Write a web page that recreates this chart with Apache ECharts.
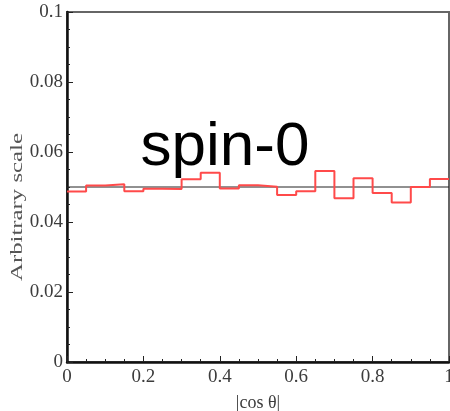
<!DOCTYPE html>
<html>
<head>
<meta charset="utf-8">
<script src="https://cdn.jsdelivr.net/npm/echarts@6/dist/echarts.min.js"></script>
<style>
  html, body { margin: 0; padding: 0; background: #fff; }
  #chart { width: 450px; height: 411px; }
</style>
</head>
<body>
<div id="chart"></div>
<script>
// |cos θ| bin edges (20 bins of width 0.05)
const binEdges = [0, 0.05, 0.1, 0.15, 0.2, 0.25, 0.3, 0.35, 0.4, 0.45,
                  0.5, 0.55, 0.6, 0.65, 0.7, 0.75, 0.8, 0.85, 0.9, 0.95, 1.0];
// normalised bin contents, spin-0 hypothesis
const binValues = [0.0487, 0.0504, 0.0508, 0.0488, 0.0495, 0.0494, 0.0522, 0.0541, 0.0496, 0.0505,
                   0.0501, 0.0477, 0.0488, 0.0546, 0.0468, 0.0525, 0.0483, 0.0456, 0.0500, 0.0523];
// flat reference distribution
const flatX = [0, 1];
const flatY = [0.05, 0.05];

const xTicks = { min: 0, max: 1, interval: 0.2 };
const yTicks = { min: 0, max: 0.1, interval: 0.02 };

// step histogram: each bin's value held from its left edge, closed at x = 1
const histData = binValues.map((v, i) => [binEdges[i], v]);
histData.push([binEdges[binEdges.length - 1], binValues[binValues.length - 1]]);
const flatData = flatX.map((x, i) => [x, flatY[i]]);

const serif = '"Liberation Serif", "DejaVu Serif", serif';
const labelColor = '#3c3c3c';

const chart = echarts.init(document.getElementById('chart'), null, { renderer: 'canvas' });
chart.setOption({
  backgroundColor: '#fff',
  animation: false,
  grid: {
    left: 67, right: 1, top: 12, bottom: 49,
    outerBoundsMode: 'none',
    containLabel: false,
    show: true, borderColor: '#666', borderWidth: 2, backgroundColor: 'transparent'
  },
  xAxis: {
    type: 'value',
    min: xTicks.min, max: xTicks.max, interval: xTicks.interval,
    name: '|cos θ|',
    nameLocation: 'middle',
    nameGap: 32,
    nameTextStyle: { fontFamily: serif, fontSize: 18, color: labelColor },
    axisLine: { show: true, lineStyle: { color: '#111', width: 2.5 } },
    axisTick: { show: true, inside: true, length: 6, lineStyle: { color: '#222', width: 1 } },
    minorTick: { show: true, splitNumber: 4, length: 3, lineStyle: { color: '#222', width: 1 } },
    splitLine: { show: false },
    axisLabel: {
      fontFamily: serif, fontSize: 19, color: labelColor, margin: 6,
      hideOverlap: false,
      formatter: v => String(Math.round(v * 10) / 10)
    }
  },
  yAxis: {
    type: 'value',
    min: yTicks.min, max: yTicks.max, interval: yTicks.interval,
    axisLine: { show: true, lineStyle: { color: '#111', width: 2.5 } },
    axisTick: { show: true, inside: true, length: 6, lineStyle: { color: '#222', width: 1 } },
    minorTick: { show: true, splitNumber: 4, length: 3, lineStyle: { color: '#222', width: 1 } },
    splitLine: { show: false },
    axisLabel: {
      fontFamily: serif, fontSize: 19, color: labelColor, margin: 4,
      formatter: v => String(Math.round(v * 100) / 100)
    }
  },
  graphic: [
    {
      type: 'text',
      x: 18, y: 207,
      rotation: Math.PI / 2,
      scaleX: 1.55,
      style: {
        text: 'Arbitrary scale',
        font: '16px ' + serif,
        fill: '#555',
        textAlign: 'center',
        textVerticalAlign: 'middle'
      },
      z: 10
    },
    {
      type: 'text',
      x: 225, y: 148,
      style: {
        text: 'spin-0',
        font: '62px "Liberation Sans", Arial, sans-serif',
        fill: '#000',
        textAlign: 'center',
        textVerticalAlign: 'middle'
      },
      z: 10
    }
  ],
  series: [
    {
      type: 'line',
      data: flatData,
      symbol: 'none',
      lineStyle: { color: '#222', width: 1 },
      z: 2
    },
    {
      type: 'line',
      data: histData,
      step: 'end',
      symbol: 'none',
      lineStyle: { color: '#ff4a4a', width: 2 },
      z: 3
    }
  ]
});
</script>
</body>
</html>
